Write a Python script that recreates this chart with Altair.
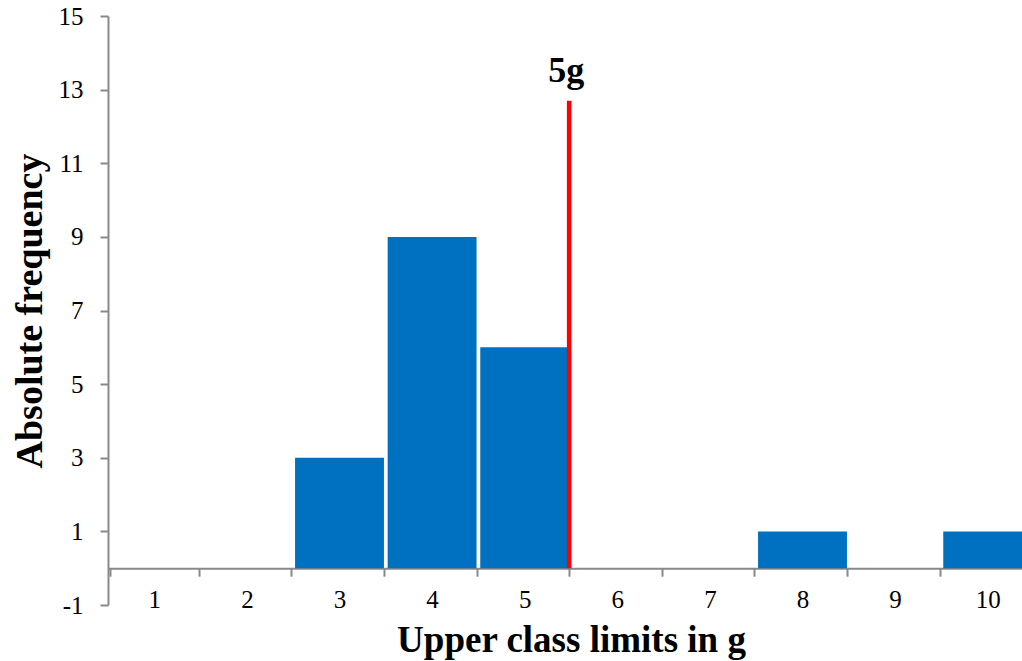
import altair as alt
import pandas as pd

categories = ["1", "2", "3", "4", "5", "6", "7", "8", "9", "10"]
frequencies = [0, 0, 3, 9, 6, 0, 0, 1, 0, 1]
y_ticks = [-1, 1, 3, 5, 7, 9, 11, 13, 15]
marker_category = ["5"]
marker_top = [12.7]
marker_label = ["5g"]
marker_label_y = [13.2]

df = pd.DataFrame({"cat": categories, "freq": frequencies, "base": [0] * len(categories)})
mk = pd.DataFrame({"cat": marker_category, "top": marker_top, "label": marker_label,
                   "ly": marker_label_y, "base": [0]})

FONT = "'Times New Roman', 'Liberation Serif', Times, serif"
GRAY = "#898989"

xscale = alt.Scale(domain=categories, range=[0, 926], paddingInner=0.04, paddingOuter=0.02)
yscale = alt.Scale(domain=[-1, 15], nice=False, zero=False)

bars = alt.Chart(df).mark_bar(color="#0070C0", clip=True).encode(
    x=alt.X("cat:O", scale=xscale, sort=categories,
            axis=alt.Axis(orient="bottom", offset=-36.8, domainColor=GRAY, domainWidth=2,
                          tickBand="extent", tickSize=8, tickColor=GRAY, tickWidth=2,
                          labelAngle=0, labelFont=FONT, labelFontSize=25, labelColor="black",
                          labelPadding=11, grid=False,
                          title="Upper class limits in g", titleFont=FONT, titleFontSize=37,
                          titleFontWeight="bold", titleColor="black", titlePadding=10)),
    y=alt.Y("freq:Q", scale=yscale,
            axis=alt.Axis(values=y_ticks, labelExpr="'' + datum.value",
                          domainColor=GRAY, domainWidth=2, tickSize=8,
                          tickColor=GRAY, tickWidth=2, labelFont=FONT, labelFontSize=25,
                          labelColor="black", labelPadding=17, grid=False,
                          title="Absolute frequency", titleFont=FONT, titleFontSize=38,
                          titleFontWeight="bold", titleColor="black", titlePadding=9)),
    y2="base:Q",
)

rule = alt.Chart(mk).mark_rule(color="#FF0000", strokeWidth=4.5).encode(
    x=alt.X("cat:O", bandPosition=1, sort=categories),
    y="base:Q",
    y2="top:Q",
)

label = alt.Chart(mk).mark_text(font=FONT, fontSize=36, fontWeight="bold", color="black",
                                baseline="alphabetic", align="center", dx=-3).encode(
    x=alt.X("cat:O", bandPosition=1, sort=categories),
    y="ly:Q",
    text="label:N",
)

chart = alt.layer(bars, rule, label).properties(
    width=914, height=589,
    autosize=alt.AutoSizeParams(type="none"),
    padding={"left": 108, "top": 16, "right": 0, "bottom": 56},
    background="white",
).configure_view(stroke=None)

chart.save("out.html", embed_options={"renderer": "svg", "actions": False})
